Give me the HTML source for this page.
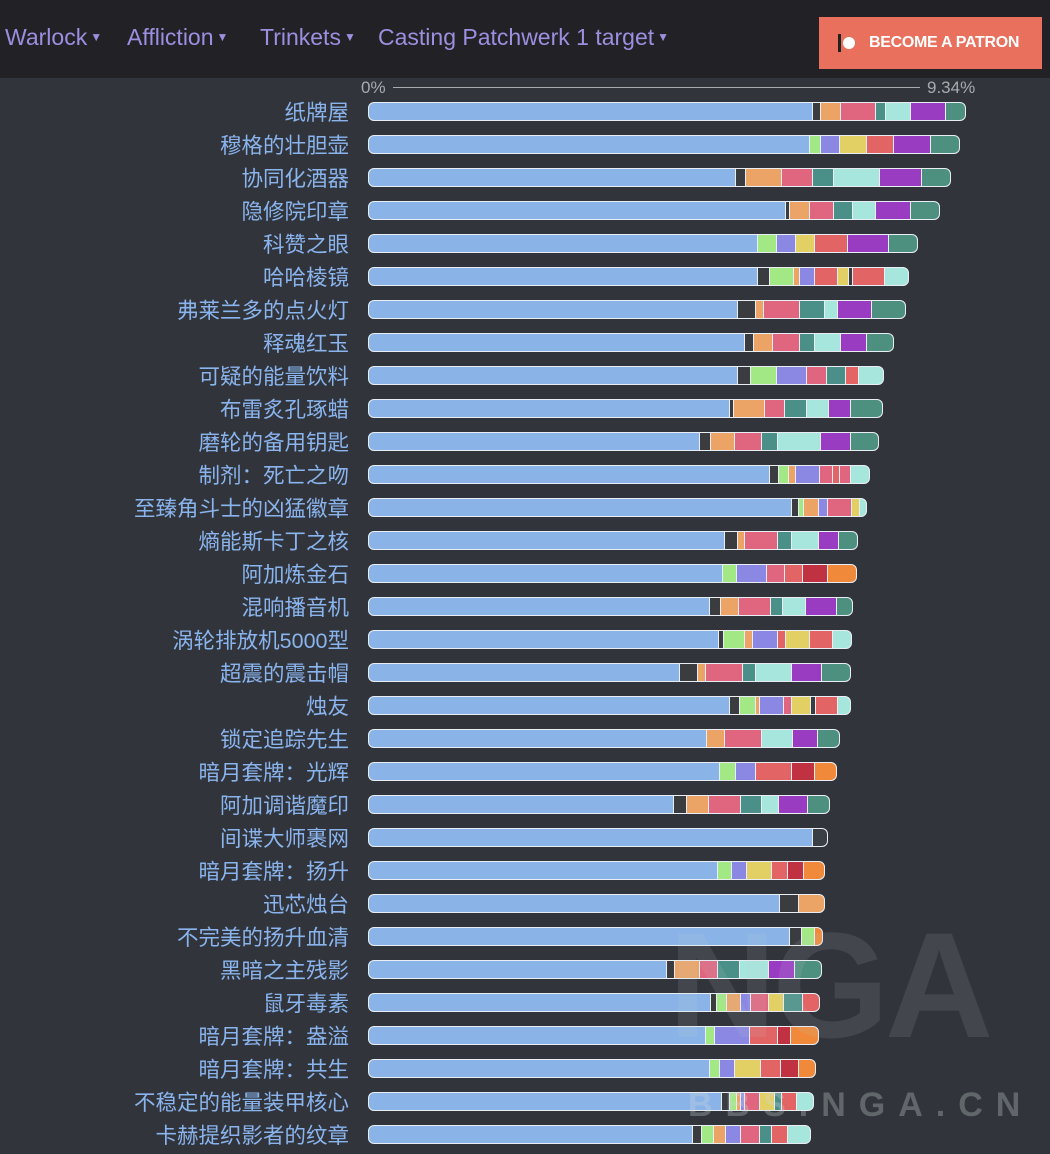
<!DOCTYPE html>
<html><head><meta charset="utf-8">
<style>
body{margin:0;width:1050px;height:1154px;background:#31353b;overflow:hidden;position:relative;font-family:"Liberation Sans","Noto Sans CJK SC",sans-serif}
.hdr{position:absolute;left:0;top:0;width:1050px;height:78px;background:#222226}
.nav{position:absolute;top:24px;font-size:23px;color:#9c8fe0;white-space:nowrap}
.nav i{font-style:normal;font-size:12px;vertical-align:4px;margin-left:3px}
.pat{position:absolute;left:819px;top:17px;width:223px;height:52px;background:#e8705c;color:#fff;font-weight:bold;font-size:16px;line-height:52px;letter-spacing:-0.3px}
.lab{position:absolute;right:701px;font-size:21.5px;color:#8ab4ee;white-space:nowrap;line-height:26px}
.bar{position:absolute;left:368px;height:17px;border:1.5px solid #e8eef4;border-radius:6px;overflow:hidden;display:flex;background:#fff}
.bar div{height:100%;border-right:1.5px solid #e8eef4;box-sizing:border-box}
.bar div:last-child{border-right:none}
.ax{position:absolute;color:#a8aaae;font-size:17px}
.wm{position:absolute;color:rgba(200,205,210,0.12);font-weight:bold;white-space:nowrap}
</style></head><body>
<div class="hdr">
<div class="nav" style="left:5px">Warlock<i>▼</i></div>
<div class="nav" style="left:127px">Affliction<i>▼</i></div>
<div class="nav" style="left:260px">Trinkets<i>▼</i></div>
<div class="nav" style="left:378px">Casting Patchwerk 1 target<i>▼</i></div>
<div class="pat"><span style="display:inline-block;width:3px;height:18px;background:#222;vertical-align:middle;margin-left:19px"></span><span style="display:inline-block;width:12px;height:12px;border-radius:6px;background:#fff;vertical-align:middle;margin-left:2px;margin-right:14px"></span>BECOME A PATRON</div>
</div>
<div class="ax" style="left:361px;top:78px">0%</div>
<div style="position:absolute;left:393px;top:87px;width:527px;height:1px;background:#a8aaae"></div>
<div class="ax" style="left:927px;top:78px">9.34%</div>
<div id="labels">
<div class="lab">纸牌屋</div><div class="lab">穆格的壮胆壶</div><div class="lab">协同化酒器</div><div class="lab">隐修院印章</div><div class="lab">科赞之眼</div><div class="lab">哈哈棱镜</div><div class="lab">弗莱兰多的点火灯</div><div class="lab">释魂红玉</div><div class="lab">可疑的能量饮料</div><div class="lab">布雷炙孔琢蜡</div><div class="lab">磨轮的备用钥匙</div><div class="lab">制剂：死亡之吻</div><div class="lab">至臻角斗士的凶猛徽章</div><div class="lab">熵能斯卡丁之核</div><div class="lab">阿加炼金石</div><div class="lab">混响播音机</div><div class="lab">涡轮排放机5000型</div><div class="lab">超震的震击帽</div><div class="lab">烛友</div><div class="lab">锁定追踪先生</div><div class="lab">暗月套牌：光辉</div><div class="lab">阿加调谐魔印</div><div class="lab">间谍大师裹网</div><div class="lab">暗月套牌：扬升</div><div class="lab">迅芯烛台</div><div class="lab">不完美的扬升血清</div><div class="lab">黑暗之主残影</div><div class="lab">鼠牙毒素</div><div class="lab">暗月套牌：盎溢</div><div class="lab">暗月套牌：共生</div><div class="lab">不稳定的能量装甲核心</div><div class="lab">卡赫提织影者的纹章</div>
</div>
<div id="bars"></div>
<div class="wm" style="left:668px;top:915px;font-size:150px;line-height:140px;letter-spacing:-4px">NGA</div>
<div class="wm" style="left:688px;top:1086px;font-size:34px;letter-spacing:13px;color:rgba(210,214,218,0.3)">BBS.NGA.CN</div>
<script>
var C={b:'#8ab4e8',d:'#3a3c40',o:'#eba466',p:'#e06680',t:'#4a9088',c:'#a6e6dc',u:'#9a3cc2',g:'#4e9080',l:'#a2e884',v:'#8a88e2',y:'#e2d064',r:'#e26464',k:'#c03242',a:'#f08a3a',w:'#3a3f45'};
var R=[
'b813 d821 o841 p876 t886 c911 u946 g965',
'b810 l821 v840 y867 r894 u931 g959',
'b736 d746 o782 p813 t834 c880 u922 g950',
'b786 d790 o810 p834 t853 c876 u911 g939',
'b758 l777 v796 y815 r848 u889 g917',
'b758 d770 l794 o800 v815 r838 y849 d853 r885 c908',
'b738 d756 o764 p800 t825 c838 u872 g905',
'b745 d754 o773 p800 t815 c841 u867 g893',
'b738 d751 l777 v807 p827 t846 r859 c883',
'b730 d734 o765 p785 t807 c829 u851 g882',
'b700 d711 o735 p762 t778 c821 u851 g878',
'b770 d779 l789 o796 v820 p833 r840 p851 c869',
'b792 d799 l804 o819 v828 p852 y860 c866',
'b725 d738 o745 p778 t792 c819 u839 g857',
'b723 l737 v767 p785 r803 k828 a856',
'b710 d721 o739 p771 t783 c806 u837 g852',
'b719 d724 l745 o753 v778 r786 y810 r833 c851',
'b680 d698 o706 p743 t756 c792 u822 g850',
'b730 d740 l756 o760 v784 p792 y811 d816 r838 c850',
'b707 o725 p762 c793 u818 g839',
'b720 l736 v756 r792 k815 a836',
'b674 d687 o709 p741 t762 c779 u808 g829',
'b813 w827',
'b718 l732 v747 y772 r788 k804 a824',
'b780 d799 o824',
'b790 d802 l815 a822',
'b667 d675 o700 p718 t740 c769 u795 g821',
'b711 d717 l727 o741 v751 p769 y784 t803 r819',
'b706 l715 v750 r778 k791 a818',
'b710 l720 v735 y761 r781 k799 a815',
'b722 d730 l737 o741 v745 p760 y775 t782 r797 c813',
'b693 d702 l714 o726 v741 p760 t772 r788 c810'];
var labs=document.querySelectorAll('.lab'),h='';
R.forEach(function(s,i){var cy=112+i*33.0;labs[i].style.top=(cy-12)+'px';
var segs=s.split(' '),x=369,end=+segs[segs.length-1].slice(1),inner='';
segs.forEach(function(q){var e=+q.slice(1);inner+='<div style="width:'+(e-x)+'px;background:'+C[q[0]]+'"></div>';x=e;});
h+='<div class="bar" style="top:'+(cy-10)+'px;width:'+(end-369)+'px">'+inner+'</div>';});
document.getElementById('bars').innerHTML=h;
</script>
</body></html>
